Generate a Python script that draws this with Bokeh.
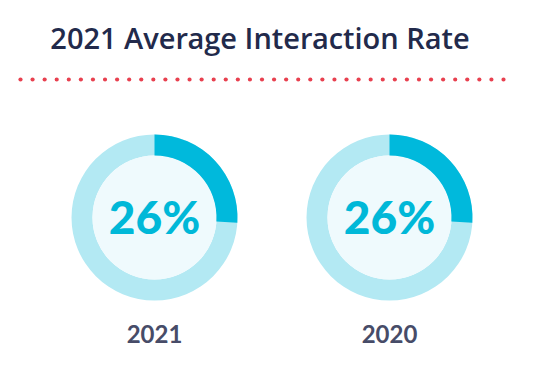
import numpy as np
from bokeh.plotting import figure
from bokeh.models import Range1d, ColumnDataSource
from bokeh.core.properties import value
from bokeh.embed import file_html
from bokeh.resources import INLINE

# ---- data ----
title_text = "2021 Average Interaction Rate"
years = ["2021", "2020"]
rates = [26, 26]          # percent
labels = [f"{r}%" for r in rates]

W, H = 536, 362
p = figure(width=W, height=H, output_backend="svg", toolbar_location=None,
           x_range=Range1d(0, W), y_range=Range1d(0, H), min_border=0,
           border_fill_color="white", background_fill_color="white")
p.axis.visible = False
p.grid.visible = False
p.outline_line_color = None

def sx(x): return x
def sy(y): return H - y

cx = [sx(154), sx(389)]
cy = [sy(217)] * 2
R_OUT, R_IN = 83, 62

ends = [np.pi / 2 - 2 * np.pi * r / 100 for r in rates]
src = ColumnDataSource(dict(x=cx, y=cy, year=years, rate=rates, lab=labels,
                            start=[np.pi / 2] * 2, end=ends,
                            ly=[sy(333.5)] * 2, py=[sy(216)] * 2))

p.annulus(x="x", y="y", inner_radius=R_IN, outer_radius=R_OUT, source=src,
          fill_color="#b3e9f3", line_color=None)
p.circle(x="x", y="y", radius=R_IN, source=src, fill_color="#effafd", line_color=None)
p.annular_wedge(x="x", y="y", inner_radius=R_IN, outer_radius=R_OUT,
                start_angle="start", end_angle="end", direction="clock",
                source=src, fill_color="#00b9dc", line_color=None)

p.text(x="x", y="py", text="lab", source=src,
       text_font=value('"Lato Black", Lato, sans-serif'),
       text_font_style="bold", text_font_size="46px", text_color="#00b8d8",
       text_align="center", text_baseline="middle")
p.text(x="x", y="ly", text="year", source=src, text_font=value("Lato"),
       text_font_style="bold", text_font_size="24px", text_color="#474c68",
       text_align="center", text_baseline="middle")

# title
p.text(x=[sx(259.5)], y=[sy(37)], text=[title_text],
       text_font=value('"Open Sans SemiBold", "Open Sans", sans-serif'),
       text_font_size="29px", text_color="#222a4b",
       text_align="center", text_baseline="middle")

# dotted separator
dx = np.linspace(sx(20), sx(503), 41)
p.scatter(x=dx, y=[sy(79)] * len(dx), size=4.2, marker="circle",
          fill_color="#e8404f", line_color=None)

open("out.html", "w").write(file_html(p, INLINE))
